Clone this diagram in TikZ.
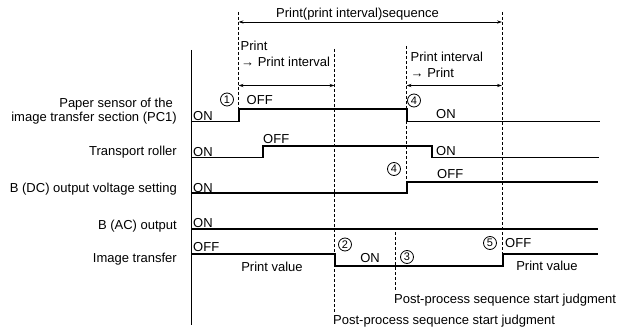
\documentclass[tikz,border=0pt]{standalone}
\usepackage{fontspec}
\setmainfont{Liberation Sans}
\usetikzlibrary{arrows.meta}
\begin{document}
\begin{tikzpicture}[x=1pt,y=-1pt,
  sig/.style={line width=1.1pt},
  guide/.style={dash pattern=on 3pt off 2pt, line width=0.7pt},
  dimline/.style={{Stealth[length=5pt,width=3.2pt]}-{Stealth[length=5pt,width=3.2pt]}, line width=0.7pt},
  lbl/.style={font=\fontsize{13}{15}\selectfont, inner sep=0pt, text height=9pt, text depth=2.5pt},
  num/.style={circle, draw, line width=0.8pt, minimum size=13pt, inner sep=0pt, font=\fontsize{11}{11}\selectfont},
]
\useasboundingbox (0,0) rectangle (622,329);

% axis
\coordinate (axT) at (191,50);
\coordinate (axB) at (191,325);
\draw[line width=1pt] (axT) -- (axB);

% signals
\draw[sig] (191,121.5) -- (239,121.5) -- (239,109) -- (407,109) -- (407,121.5) -- (600,121.5);
\draw[sig] (191,157.5) -- (263,157.5) -- (263,146) -- (432,146) -- (432,157.5) -- (599,157.5);
\draw[sig] (191,193) -- (407,193) -- (407,182) -- (598,182);
\draw[sig] (191,229) -- (598,229);
\draw[sig] (191,254) -- (335,254) -- (335,266) -- (503,266) -- (503,254) -- (598,254);

% dashed guides
\coordinate (d1t) at (238.5,12);  \coordinate (d1b) at (238.5,109);
\coordinate (d2t) at (334.5,49);  \coordinate (d2b) at (334.5,313);
\coordinate (d3t) at (406.5,46);  \coordinate (d3b) at (406.5,182);
\coordinate (d4t) at (502,12);    \coordinate (d4b) at (502,254);
\coordinate (d5t) at (395,232);   \coordinate (d5b) at (395,290);
\draw[guide] (d1t) -- (d1b);
\draw[guide] (d2t) -- (d2b);
\draw[guide] (d3t) -- (d3b);
\draw[guide] (d4t) -- (d4b);
\draw[guide] (d5t) -- (d5b);

% dimension arrows
\coordinate (a1) at (238.5,22);   \coordinate (a2) at (502,22);
\coordinate (b1) at (238.5,85.5); \coordinate (b2) at (334.5,85.5);
\coordinate (c1) at (406.5,85.5); \coordinate (c2) at (502,85.5);
\draw[dimline] (a1) -- (a2);
\draw[dimline] (b1) -- (b2);
\draw[dimline] (c1) -- (c2);

% top texts
\node[lbl] (tseq) at (357.5,14) {Print(print interval)sequence};
\node[lbl, anchor=west] (tp1) at (240.5,47) {Print};
\node[lbl, anchor=west] (tp2) at (241,63) {→ Print interval};
\node[lbl, anchor=west] (tq1) at (410.5,58) {Print interval};
\node[lbl, anchor=west] (tq2) at (410.5,74) {→ Print};

% left labels
\node[lbl, anchor=east] (l1a) at (173,104) {Paper sensor of the};
\node[lbl, anchor=east] (l1b) at (177,118) {image transfer section (PC1)};
\node[lbl, anchor=east] (l2) at (177,152) {Transport roller};
\node[lbl, anchor=east] (l3) at (177,189) {B (DC) output voltage setting};
\node[lbl, anchor=east] (l4) at (177,226) {B (AC) output};
\node[lbl, anchor=east] (l5) at (177,259.5) {Image transfer};

% state labels
\node[lbl, anchor=west] (s1a) at (193,117) {ON};
\node[lbl, anchor=west] (s1b) at (246.5,101.5) {OFF};
\node[lbl, anchor=west] (s1c) at (436,115) {ON};
\node[lbl, anchor=west] (s2a) at (193,153) {ON};
\node[lbl, anchor=west] (s2b) at (263,140) {OFF};
\node[lbl, anchor=west] (s2c) at (436,152) {ON};
\node[lbl, anchor=west] (s3a) at (193,189) {ON};
\node[lbl, anchor=west] (s3b) at (437,175) {OFF};
\node[lbl, anchor=west] (s4a) at (193,224) {ON};
\node[lbl, anchor=west] (s5a) at (193,248) {OFF};
\node[lbl] (s5b) at (272,268) {Print value};
\node[lbl] (s5c) at (370,259.5) {ON};
\node[lbl, anchor=west] (s5d) at (505,244) {OFF};
\node[lbl] (s5e) at (547,267) {Print value};

% bottom texts
\node[lbl, anchor=west] (j1) at (394,300) {Post-process sequence start judgment};
\node[lbl, anchor=west] (j2) at (333,321.5) {Post-process sequence start judgment};

% circled numbers
\node[num] (n1) at (227,99.5) {1};
\node[num] (n4a) at (414,100.5) {4};
\node[num] (n4b) at (394,169) {4};
\node[num] (n2) at (345,244.5) {2};
\node[num] (n3) at (407,257) {3};
\node[num] (n5) at (490,243) {5};
\end{tikzpicture}
\end{document}
